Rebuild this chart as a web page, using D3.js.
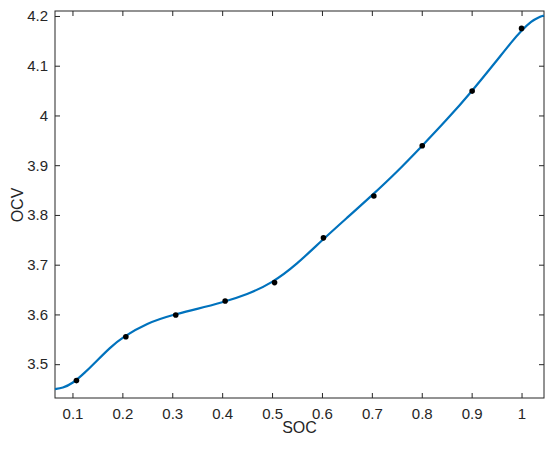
<!DOCTYPE html>
<html>
<head>
<meta charset="utf-8">
<script src="https://cdn.jsdelivr.net/npm/d3@7"></script>
<style>
  body { margin: 0; background: #fff; }
  text { font-family: "Liberation Sans", Arial, sans-serif; fill: #262626; }
</style>
</head>
<body>
<div id="chart"></div>
<script>
// measured points (SOC vs OCV)
var socPoints = [0.108, 0.207, 0.307, 0.406, 0.505, 0.603, 0.704, 0.801, 0.901, 1.0];
var ocvPoints = [3.467, 3.555, 3.599, 3.627, 3.664, 3.754, 3.838, 3.939, 4.049, 4.175];

// fitted curve
var socCurve = [0.065, 0.08, 0.10, 0.125, 0.15, 0.175, 0.20, 0.25, 0.30, 0.35, 0.40, 0.45, 0.50, 0.55, 0.60, 0.65, 0.70, 0.75, 0.80, 0.85, 0.90, 0.95, 0.98, 1.00, 1.02, 1.035, 1.045];
var ocvCurve = [3.450, 3.452, 3.461, 3.483, 3.508, 3.533, 3.554, 3.583, 3.599, 3.611, 3.624, 3.640, 3.663, 3.701, 3.749, 3.794, 3.839, 3.886, 3.938, 3.991, 4.048, 4.110, 4.148, 4.171, 4.190, 4.198, 4.201];

var xTicks = [0.1, 0.2, 0.3, 0.4, 0.5, 0.6, 0.7, 0.8, 0.9, 1];
var yTicks = [3.5, 3.6, 3.7, 3.8, 3.9, 4, 4.1, 4.2];

var svgWidth = 550;
var svgHeight = 450;
var margin = { top: 11, right: 6, bottom: 52, left: 55 };
var width = svgWidth - margin.left - margin.right;
var height = svgHeight - margin.top - margin.bottom;

var svg = d3.select("#chart")
  .append("svg")
  .attr("width", svgWidth)
  .attr("height", svgHeight);

var chartGroup = svg.append("g")
  .attr("transform", `translate(${margin.left}, ${margin.top})`);

var xScale = d3.scaleLinear()
  .domain([0.065, 1.045])
  .range([0, width]);

var yScale = d3.scaleLinear()
  .domain([3.432, 4.21])
  .range([height, 0]);

var axisColor = "#262626";
var tickLen = 5;

// axes, ticks inward, mirrored on top / right
function styleAxis(g) {
  g.select(".domain").remove();
  g.selectAll("line").attr("stroke", axisColor);
  g.selectAll("text").style("font-size", "15px").attr("fill", axisColor);
}

chartGroup.append("g")
  .attr("transform", `translate(0, ${height})`)
  .call(d3.axisBottom(xScale).tickValues(xTicks).tickSizeInner(-tickLen).tickSizeOuter(0).tickPadding(10).tickFormat(d3.format("")))
  .call(styleAxis);

chartGroup.append("g")
  .call(d3.axisTop(xScale).tickValues(xTicks).tickSizeInner(-tickLen).tickSizeOuter(0).tickFormat(""))
  .call(styleAxis);

chartGroup.append("g")
  .call(d3.axisLeft(yScale).tickValues(yTicks).tickSizeInner(-tickLen).tickSizeOuter(0).tickPadding(7).tickFormat(d3.format("")))
  .call(styleAxis);

chartGroup.append("g")
  .attr("transform", `translate(${width}, 0)`)
  .call(d3.axisRight(yScale).tickValues(yTicks).tickSizeInner(-tickLen).tickSizeOuter(0).tickFormat(""))
  .call(styleAxis);

// box
chartGroup.append("rect")
  .attr("x", 0)
  .attr("y", 0)
  .attr("width", width)
  .attr("height", height)
  .attr("fill", "none")
  .attr("stroke", axisColor)
  .attr("stroke-width", 1);

// curve
var curveData = socCurve.map((s, i) => ({ soc: s, ocv: ocvCurve[i] }));
var line = d3.line()
  .x(d => xScale(d.soc))
  .y(d => yScale(d.ocv))
  .curve(d3.curveBasis);

chartGroup.append("path")
  .datum(curveData)
  .attr("d", line)
  .attr("fill", "none")
  .attr("stroke", "#0072BD")
  .attr("stroke-width", 2.2);

// points
var pointData = socPoints.map((s, i) => ({ soc: s, ocv: ocvPoints[i] }));
chartGroup.selectAll(".pt")
  .data(pointData)
  .enter()
  .append("circle")
  .attr("class", "pt")
  .attr("cx", d => xScale(d.soc))
  .attr("cy", d => yScale(d.ocv))
  .attr("r", 2.8)
  .attr("fill", "#000");

// axis labels
chartGroup.append("text")
  .attr("x", width / 2)
  .attr("y", height + 35)
  .attr("text-anchor", "middle")
  .style("font-size", "16px")
  .text("SOC");

chartGroup.append("text")
  .attr("transform", "rotate(-90)")
  .attr("x", -194)
  .attr("y", -32)
  .attr("text-anchor", "middle")
  .style("font-size", "16px")
  .text("OCV");
</script>
</body>
</html>
